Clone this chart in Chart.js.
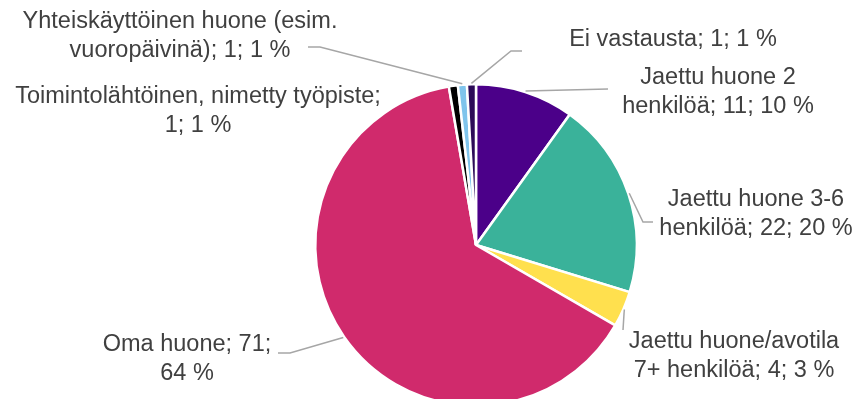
<!DOCTYPE html>
<html>
<head>
<meta charset="utf-8">
<script src="https://cdn.jsdelivr.net/npm/chart.js@4"></script>
<style>
  html, body { margin: 0; padding: 0; background: #fff; overflow: hidden; }
  #wrap { width: 858px; height: 399px; overflow: hidden; }
</style>
</head>
<body>
<div id="wrap"><canvas id="pie" width="858" height="420"></canvas></div>
<script>
// slices, clockwise from 12 o'clock
var categories = [
    'Jaettu huone 2 henkilöä',
    'Jaettu huone 3-6 henkilöä',
    'Jaettu huone/avotila 7+ henkilöä',
    'Oma huone',
    'Toimintolähtöinen, nimetty työpiste',
    'Yhteiskäyttöinen huone (esim. vuoropäivinä)',
    'Ei vastausta'
];
var counts = [11, 22, 4, 71, 1, 1, 1];
var percents = [10, 20, 3, 64, 1, 1, 1];
var colors = ['#4b0089', '#3ab29a', '#ffe04e', '#d02a6c', '#000000', '#7fc4ec', '#2c0b58'];

// how each data label is broken into lines
var labelLines = [
    ['Jaettu huone 2', 'henkilöä; 11; 10 %'],
    ['Jaettu huone 3-6', 'henkilöä; 22; 20 %'],
    ['Jaettu huone/avotila', '7+ henkilöä; 4; 3 %'],
    ['Oma huone; 71;', '64 %'],
    ['Toimintolähtöinen, nimetty työpiste;', '1; 1 %'],
    ['Yhteiskäyttöinen huone (esim.', 'vuoropäivinä); 1; 1 %'],
    ['Ei vastausta; 1; 1 %']
];

// label placement: text centre and leader points (elbow, end); null = no leader
var labelLayout = [
    { x: 718, y: 78,  leader: [[608, 89]] },
    { x: 756, y: 200, leader: [[643, 222], [653, 222]] },
    { x: 734, y: 342, leader: [[623, 330]] },
    { x: 187, y: 345, leader: [[290, 353], [278, 353]] },
    { x: 198, y: 97,  leader: null },
    { x: 180, y: 22,  leader: [[320, 47], [308, 47]] },
    { x: 673, y: 40,  leader: [[511, 51], [522, 51]] }
];

var outsideLabels = {
    id: 'outsideLabels',
    afterDraw: function (chart) {
        var ctx = chart.ctx;
        var arcs = chart.getDatasetMeta(0).data;
        ctx.save();
        arcs.forEach(function (arc, i) {
            var lay = labelLayout[i];
            var p = arc.getProps(['x', 'y', 'startAngle', 'endAngle', 'outerRadius'], true);
            var mid = (p.startAngle + p.endAngle) / 2;
            var r = p.outerRadius + 1;
            if (lay.leader) {
                ctx.strokeStyle = '#a6a6a6';
                ctx.lineWidth = 1.5;
                ctx.beginPath();
                ctx.moveTo(p.x + Math.cos(mid) * r, p.y + Math.sin(mid) * r);
                lay.leader.forEach(function (pt) { ctx.lineTo(pt[0], pt[1]); });
                ctx.stroke();
            }
            ctx.fillStyle = '#404040';
            ctx.font = '23.5px "Liberation Sans", Arial, sans-serif';
            ctx.textAlign = 'center';
            ctx.textBaseline = 'middle';
            labelLines[i].forEach(function (line, k) {
                ctx.fillText(line, lay.x, lay.y + k * 29);
            });
        });
        ctx.restore();
    }
};

new Chart(document.getElementById('pie').getContext('2d'), {
    type: 'pie',
    data: {
        labels: categories,
        datasets: [{
            data: counts,
            backgroundColor: colors,
            borderColor: '#ffffff',
            borderWidth: 2.5
        }]
    },
    options: {
        responsive: false,
        animation: false,
        events: [],
        layout: { padding: { left: 314, right: 220, top: 83, bottom: 13 } },
        plugins: {
            legend: { display: false },
            tooltip: { enabled: false }
        }
    },
    plugins: [outsideLabels]
});
</script>
</body>
</html>
